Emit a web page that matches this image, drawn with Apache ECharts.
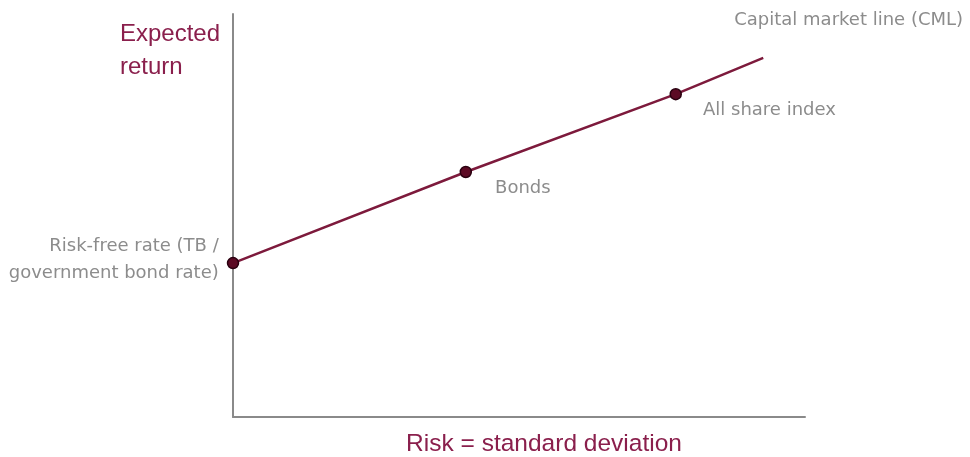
<!DOCTYPE html>
<html>
<head>
<meta charset="utf-8">
<script src="https://cdn.jsdelivr.net/npm/echarts@6/dist/echarts.min.js"></script>
<style>
  html, body { margin: 0; padding: 0; background: #ffffff; }
  #chart { width: 970px; height: 457px; }
</style>
</head>
<body>
<div id="chart"></div>
<script>
// Capital market line: risk (standard deviation) vs expected return
const pointNames = ['Risk-free rate (TB /\ngovernment bond rate)', 'Bonds', 'All share index', 'Capital market line (CML)'];
const riskValues = [0, 40.7, 77.4, 92.7];
const returnValues = [38.2, 60.8, 80.1, 89.1];
const xAxisTitle = 'Risk = standard deviation';
const yAxisTitle = 'Expected\nreturn';

const labelColor = '#8c8c8c';
const titleColor = '#8a1f4c';
const labelFont = 'DejaVu Sans, Verdana, sans-serif';
const titleFont = 'Liberation Sans, Arial, sans-serif';

// label placement for each point on the line
const labelStyles = [
  { position: 'left', distance: 8, align: 'right', offset: [0, -3], lineHeight: 27 },
  { position: 'right', offset: [18, 16] },
  { position: 'right', offset: [16, 16] },
  { position: 'right', offset: [-34, -38] }
];

const data = riskValues.map((x, i) => {
  const isEnd = i === riskValues.length - 1;
  return {
    value: [x, returnValues[i]],
    name: pointNames[i],
    symbolSize: isEnd ? 0 : 11,
    label: Object.assign({
      show: true,
      formatter: pointNames[i],
      color: labelColor,
      fontSize: 18,
      fontFamily: labelFont
    }, labelStyles[i])
  };
});

const chart = echarts.init(document.getElementById('chart'), null, { renderer: 'canvas' });
chart.setOption({
  animation: false,
  backgroundColor: '#ffffff',
  grid: { left: 233, right: 165, top: 14, bottom: 40, outerBoundsMode: 'none', containLabel: false },
  xAxis: {
    type: 'value', min: 0, max: 100,
    name: xAxisTitle, nameLocation: 'middle', nameGap: 15,
    nameTextStyle: { color: titleColor, fontSize: 24.5, fontFamily: titleFont, padding: [0, 0, 0, 50] },
    axisLine: { show: true, lineStyle: { color: '#8a8a8a', width: 2 } },
    axisTick: { show: false }, axisLabel: { show: false }, splitLine: { show: false }
  },
  yAxis: {
    type: 'value', min: 0, max: 100,
    axisLine: { show: true, lineStyle: { color: '#8a8a8a', width: 2 } },
    axisTick: { show: false }, axisLabel: { show: false }, splitLine: { show: false }
  },
  graphic: [{
    type: 'text', left: 120, top: 18,
    style: {
      text: yAxisTitle, fill: titleColor, fontSize: 24, lineHeight: 33,
      fontFamily: titleFont
    }
  }],
  series: [{
    type: 'line',
    data: data,
    symbol: 'circle',
    lineStyle: { color: '#7d1a3c', width: 2.5 },
    itemStyle: { color: '#5c0a24', borderColor: '#2a0010', borderWidth: 1.5 },
    emphasis: { disabled: true }
  }]
});
</script>
</body>
</html>
